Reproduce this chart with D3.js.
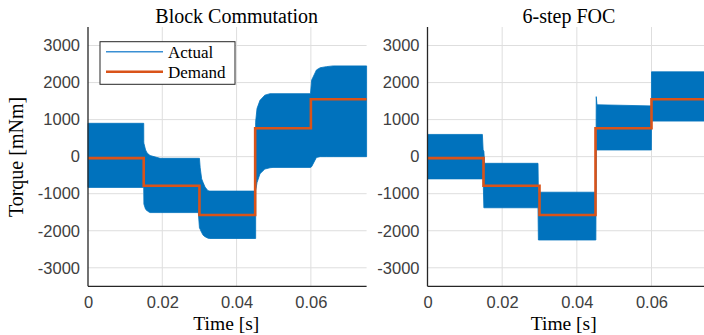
<!DOCTYPE html>
<html>
<head>
<meta charset="utf-8">
<script src="https://cdn.jsdelivr.net/npm/d3@7"></script>
<style>
  html, body { margin: 0; padding: 0; background: #fff; }
  svg { display: block; }
</style>
</head>
<body>
<svg id="chart" width="704" height="335"></svg>
<script>
// ---------------- DATA ----------------
const xTicks = [0, 0.02, 0.04, 0.06];
const xTickLabels = ["0", "0.02", "0.04", "0.06"];
const yTicks = [-3000, -2000, -1000, 0, 1000, 2000, 3000];
const yTickLabels = ["-3000", "-2000", "-1000", "0", "1000", "2000", "3000"];

const demandTime = [0, 0.015, 0.030, 0.045, 0.060, 0.075];
const demandValue = [-40, -785, -1575, 765, 1550, 1550];

// Block commutation: envelope of the fast-oscillating actual torque
const blockTime  = [0, 0.0150, 0.01502, 0.01505, 0.0155, 0.0158, 0.0160, 0.0167, 0.0194, 0.0297, 0.0300, 0.0302, 0.0306, 0.0310, 0.0315, 0.0323, 0.0328, 0.0450, 0.04513, 0.04515, 0.0455, 0.0463, 0.0476, 0.0490, 0.0498, 0.0599, 0.0602, 0.0615, 0.0625, 0.0642, 0.0660, 0.0750];
const blockUpper = [900, 900, 400, 360, 180, 120, 90, 30, -45, -45, -45, -300, -600, -700, -820, -920, -930, -930, 930, 960, 1300, 1520, 1660, 1700, 1700, 1700, 2065, 2340, 2400, 2430, 2450, 2450];
const blockLower = [-830, -830, -1000, -1280, -1420, -1450, -1470, -1510, -1510, -1510, -1920, -1960, -2050, -2120, -2160, -2200, -2210, -2210, -2210, -920, -700, -460, -335, -300, -290, -290, -270, -20, 0, 0, 0, 0];

// 6-step FOC: envelope of the actual torque
const focTime  = [0, 0.0147, 0.0149, 0.0151, 0.0153, 0.0296, 0.0297, 0.0451, 0.0452, 0.0454, 0.05997, 0.0600, 0.0750];
const focUpper = [600, 600, 180, 150, -180, -180, -960, -960, 1620, 1400, 1370, 2290, 2290];
const focLower = [-600, -600, -600, -1380, -1380, -1380, -2250, -2250, 180, 180, 180, 960, 960];

const panels = [
  { title: "Block Commutation", time: blockTime, upper: blockUpper, lower: blockLower,
    x0: 88, x1: 366.6, titleX: 236.7, legend: true, labelY: true },
  { title: "6-step FOC", time: focTime, upper: focUpper, lower: focLower,
    x0: 427.5, x1: 707.5, titleX: 569, legend: false, labelY: false }
];

// ---------------- DRAW ----------------
const svg = d3.select("#chart");
const BLUE = "#0072BD", ORANGE = "#D95319", AXIS = "#262626", GRID = "#dedede";
const serif = "'Liberation Serif','Times New Roman',serif";
const sans = "'Liberation Sans',Arial,Helvetica,sans-serif";
const yTop = 27, yBot = 286.3;

panels.forEach(p => {
  const x = d3.scaleLinear().domain([0, 0.075]).range([p.x0, p.x1]);
  const y = d3.scaleLinear().domain([-3500, 3500]).range([yBot, yTop]);
  const g = svg.append("g");

  // grid
  g.append("g").selectAll("line").data(yTicks).join("line")
    .attr("x1", p.x0).attr("x2", p.x1)
    .attr("y1", d => y(d)).attr("y2", d => y(d))
    .attr("stroke", GRID).attr("stroke-width", 1);
  g.append("g").selectAll("line").data(xTicks.filter(d => d > 0)).join("line")
    .attr("x1", d => x(d)).attr("x2", d => x(d))
    .attr("y1", yTop).attr("y2", yBot)
    .attr("stroke", GRID).attr("stroke-width", 1);

  // actual (envelope of fast oscillation)
  const idx = d3.range(p.time.length);
  const area = d3.area()
    .x(i => x(p.time[i]))
    .y0(i => y(p.lower[i]))
    .y1(i => y(p.upper[i]));
  g.append("path").datum(idx).attr("d", area)
    .attr("fill", BLUE).attr("stroke", BLUE).attr("stroke-width", 0.8);

  // demand
  const line = d3.line().curve(d3.curveStepAfter)
    .x(i => x(demandTime[i])).y(i => y(demandValue[i]));
  g.append("path").datum(d3.range(demandTime.length)).attr("d", line)
    .attr("fill", "none").attr("stroke", ORANGE).attr("stroke-width", 2.6);

  // axes
  const yAxis = d3.axisLeft(y).tickValues(yTicks).tickSize(0).tickPadding(8)
    .tickFormat((d, i) => yTickLabels[i]);
  const ya = g.append("g").attr("transform", `translate(${p.x0},0)`).call(yAxis);
  const xAxis = d3.axisBottom(x).tickValues(xTicks).tickSize(0).tickPadding(9.5)
    .tickFormat((d, i) => xTickLabels[i]);
  const xa = g.append("g").attr("transform", `translate(0,${yBot})`).call(xAxis);
  [ya, xa].forEach(a => {
    a.select(".domain").attr("stroke", AXIS).attr("stroke-width", 1.3);
    a.selectAll("text").attr("font-family", sans).attr("font-size", 16.5).attr("fill", "#404040");
  });
  ya.select(".domain").attr("d", `M0,${yTop}V${yBot}`);
  xa.select(".domain").attr("d", `M${p.x0},0H${p.x1}`);

  // title
  g.append("text").attr("x", p.titleX).attr("y", 22.7).attr("text-anchor", "middle")
    .attr("font-family", serif).attr("font-size", 20).attr("fill", "#000").text(p.title);
  // x label
  g.append("text").attr("x", (p.x0 + Math.min(p.x1, 704)) / 2 + (p.labelY ? -1 : -2)).attr("y", 329.5)
    .attr("text-anchor", "middle").attr("font-family", serif).attr("font-size", 19.5)
    .attr("fill", "#000").text("Time [s]");

  if (p.labelY) {
    g.append("text").attr("transform", "translate(22.5,157) rotate(-90)")
      .attr("text-anchor", "middle").attr("font-family", serif).attr("font-size", 20)
      .attr("fill", "#000").text("Torque [mNm]");
  }

  if (p.legend) {
    const lg = g.append("g");
    lg.append("rect").attr("x", 100).attr("y", 41.7).attr("width", 135).attr("height", 42.6)
      .attr("fill", "#fff").attr("stroke", AXIS).attr("stroke-width", 1);
    lg.append("line").attr("x1", 106).attr("x2", 163).attr("y1", 51.7).attr("y2", 51.7)
      .attr("stroke", "#3a8fd3").attr("stroke-width", 1.5);
    lg.append("line").attr("x1", 106).attr("x2", 163).attr("y1", 71.7).attr("y2", 71.7)
      .attr("stroke", ORANGE).attr("stroke-width", 2.6);
    lg.append("text").attr("x", 168).attr("y", 57.5).attr("font-family", serif)
      .attr("font-size", 17).attr("fill", "#000").text("Actual");
    lg.append("text").attr("x", 168).attr("y", 77.5).attr("font-family", serif)
      .attr("font-size", 17).attr("fill", "#000").text("Demand");
  }
});
</script>
</body>
</html>
